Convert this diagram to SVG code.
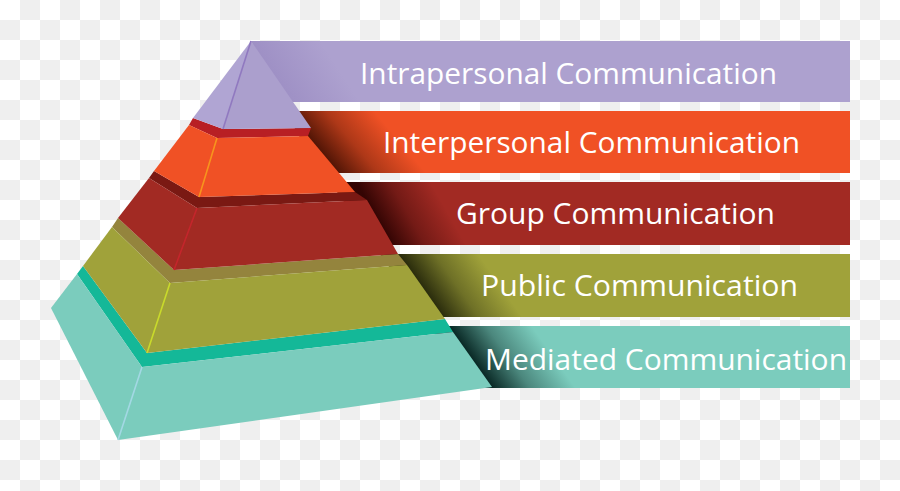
<svg xmlns="http://www.w3.org/2000/svg" width="900" height="491" viewBox="0 0 900 491">
<defs>
<pattern id="checker" width="40" height="40" patternUnits="userSpaceOnUse">
<rect width="40" height="40" fill="#ffffff"/>
<rect x="20" y="0" width="20" height="20" fill="#efefef"/>
<rect x="0" y="20" width="20" height="20" fill="#efefef"/>
</pattern>
<linearGradient id="shPurple" gradientUnits="userSpaceOnUse" x1="272" y1="71" x2="320" y2="40">
<stop offset="0" stop-color="#7d6aae" stop-opacity="0.3"/>
<stop offset="1" stop-color="#7d6aae" stop-opacity="0"/>
</linearGradient>
<linearGradient id="shOrange" gradientUnits="userSpaceOnUse" x1="313" y1="142" x2="364" y2="99">
<stop offset="0" stop-color="#4a1204" stop-opacity="0.95"/>
<stop offset="0.45" stop-color="#4a1204" stop-opacity="0.4"/>
<stop offset="1" stop-color="#4a1204" stop-opacity="0"/>
</linearGradient>
<linearGradient id="shRed" gradientUnits="userSpaceOnUse" x1="374" y1="213" x2="430" y2="181">
<stop offset="0" stop-color="#2e0302" stop-opacity="0.95"/>
<stop offset="0.45" stop-color="#2e0302" stop-opacity="0.4"/>
<stop offset="1" stop-color="#2e0302" stop-opacity="0"/>
</linearGradient>
<linearGradient id="shGreen" gradientUnits="userSpaceOnUse" x1="421" y1="285" x2="474" y2="248">
<stop offset="0" stop-color="#24260a" stop-opacity="0.95"/>
<stop offset="0.45" stop-color="#24260a" stop-opacity="0.4"/>
<stop offset="1" stop-color="#24260a" stop-opacity="0"/>
</linearGradient>
<linearGradient id="shTeal" gradientUnits="userSpaceOnUse" x1="471" y1="357" x2="526" y2="318">
<stop offset="0" stop-color="#04211e" stop-opacity="0.95"/>
<stop offset="0.45" stop-color="#04211e" stop-opacity="0.4"/>
<stop offset="1" stop-color="#04211e" stop-opacity="0"/>
</linearGradient>
</defs>
<style>
.lbl { font-family: "Open Sans", "Noto Sans", "Liberation Sans", sans-serif; font-size: 30px; fill: #ffffff; }
.ridge { fill: none; stroke-width: 1.6; }
.purple { fill: #ada1cf; }
.orange { fill: #f05125; }
.red { fill: #a22a23; }
.green { fill: #a0a23a; }
.teal { fill: #7bccbd; }
</style>
<rect width="900" height="491" fill="url(#checker)"/>

<g id="tier-mediated">
<polygon class="teal" points="430,326 850,326 850,388 470,388"/>
<polygon points="430,326 850,326 850,388 470,388" fill="url(#shTeal)"/>
<polygon fill="#14b898" points="77,274 83,266 147,353 445,319 453,332 142,367"/>
<polygon class="teal" points="77,274 51,308 118,440 142,367"/>
<polygon class="teal" points="142,367 453,332 492,387 118,440"/>
<line class="ridge" stroke="#a3d8e4" x1="142" y1="367" x2="118" y2="440"/>
<text class="lbl" x="485" y="370" textLength="362" lengthAdjust="spacingAndGlyphs">Mediated Communication</text>
</g>

<g id="tier-public">
<polygon class="green" points="380,254 850,254 850,317 425,317"/>
<polygon points="380,254 850,254 850,317 425,317" fill="url(#shGreen)"/>
<polygon fill="#94843d" points="112,227 118,218 174,270 398,254 407,265 170,283"/>
<polygon class="green" points="112,227 83,266 147,353 170,283"/>
<polygon class="green" points="170,283 407,265 445,319 147,353"/>
<line class="ridge" stroke="#c9da2b" x1="170" y1="283" x2="147" y2="353"/>
<text class="lbl" x="481" y="296" textLength="317" lengthAdjust="spacingAndGlyphs">Public Communication</text>
</g>

<g id="tier-group">
<polygon class="red" points="330,182 850,182 850,245 375,245"/>
<polygon points="330,182 850,182 850,245 375,245" fill="url(#shRed)"/>
<polygon fill="#7a1913" points="149,178 154,171 199,197 355,192 367,200 197,208"/>
<polygon class="red" points="149,178 118,218 174,270 197,208"/>
<polygon class="red" points="197,208 367,200 398,254 174,270"/>
<line class="ridge" stroke="#c4252b" x1="197" y1="208" x2="174" y2="270"/>
<text class="lbl" x="456" y="224" textLength="319" lengthAdjust="spacingAndGlyphs">Group Communication</text>
</g>

<g id="tier-interpersonal">
<polygon class="orange" points="285,111 850,111 850,173 320,173"/>
<polygon points="285,111 850,111 850,173 320,173" fill="url(#shOrange)"/>
<polygon fill="#b81f24" points="189,125 193,118 223,129 311,128 308,136 217,138"/>
<polygon class="orange" points="189,125 154,171 199,197 217,138"/>
<polygon class="orange" points="217,138 308,136 355,192 199,197"/>
<line class="ridge" stroke="#f7941d" x1="217" y1="138" x2="199" y2="197"/>
<text class="lbl" x="383" y="153" textLength="417" lengthAdjust="spacingAndGlyphs">Interpersonal Communication</text>
</g>

<g id="tier-intrapersonal">
<polygon class="purple" points="251,41 850,41 850,102 280,102"/>
<polygon points="251,41 850,41 850,102 280,102" fill="url(#shPurple)"/>
<polygon fill="#b0a5d3" points="251,41 193,118 223,129"/>
<polygon fill="#ab9fcd" points="251,41 223,129 311,128"/>
<line class="ridge" stroke="#9079c0" x1="251" y1="41" x2="223" y2="129"/>
<text class="lbl" x="360" y="84" textLength="417" lengthAdjust="spacingAndGlyphs">Intrapersonal Communication</text>
</g>

<g id="connectors"></g>
</svg>
